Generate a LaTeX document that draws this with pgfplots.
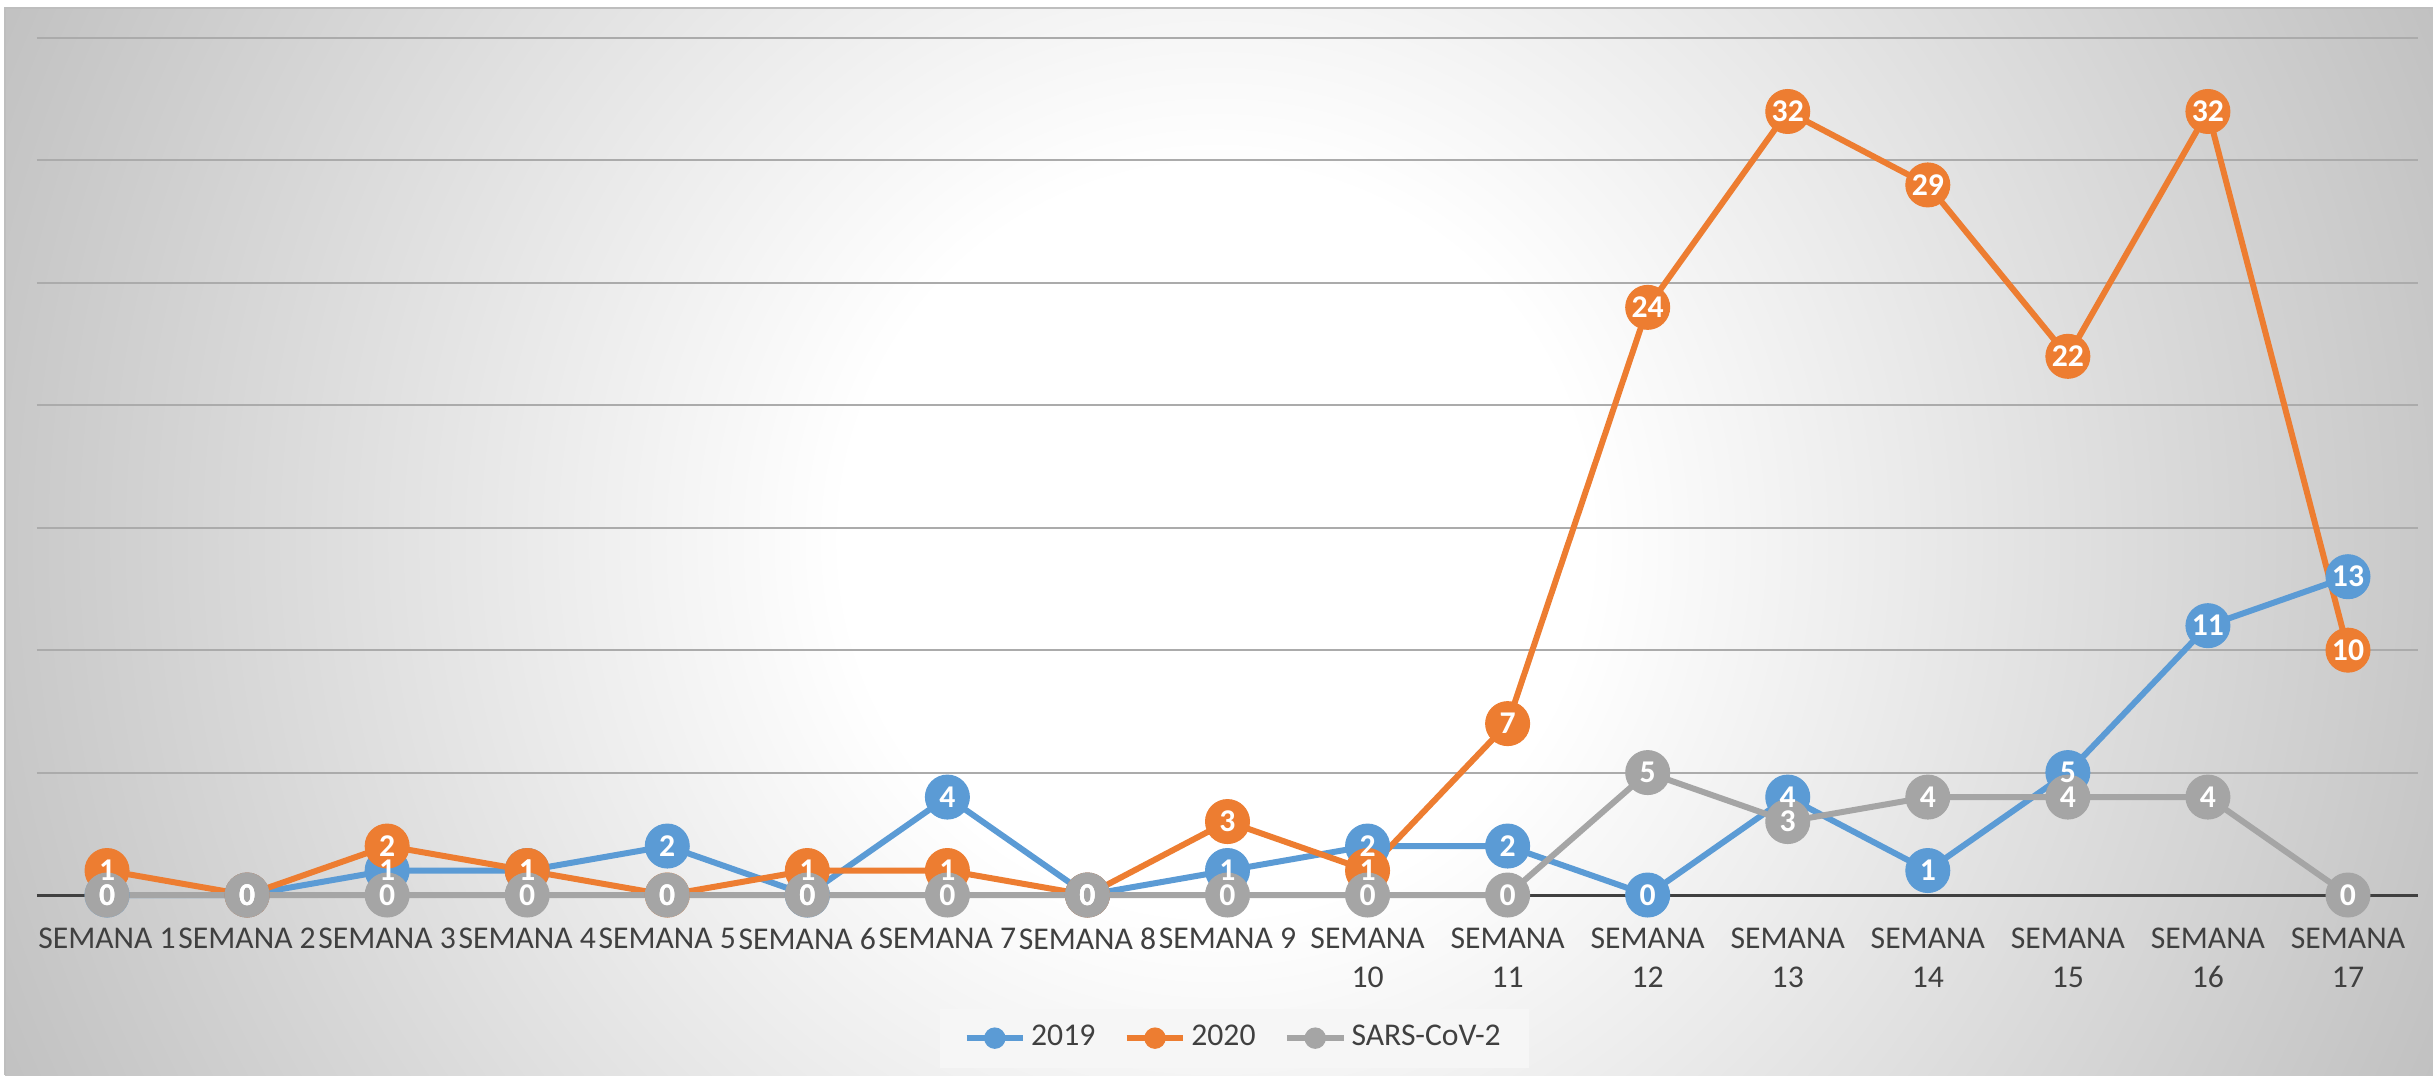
\documentclass[border=0pt]{standalone}
\usepackage{pgfplots}
\pgfplotsset{compat=1.18}
\usepackage{pgfplotstable}
\usepackage{fontspec}
\setmainfont{Carlito}
\definecolor{c19}{HTML}{5B9BD5}
\definecolor{c20}{HTML}{ED7D31}
\definecolor{csars}{HTML}{A5A5A5}
\definecolor{txt}{HTML}{404040}
\definecolor{gridc}{HTML}{ABABAB}
\definecolor{bgout}{RGB}{193,193,193}
\definecolor{framec}{RGB}{190,190,190}
\pgfdeclareradialshading{chartbg}{\pgfpoint{0bp}{0bp}}{color(0bp)=(white); color(7bp)=(white); color(25bp)=(bgout); color(50bp)=(bgout)}

\pgfplotstableread{
x a b c
0 0 1 0
1 0 0 0
2 1 2 0
3 1 1 0
4 2 0 0
5 0 1 0
6 4 1 0
7 0 0 0
8 1 3 0
9 2 1 0
10 2 7 0
11 0 24 5
12 4 32 3
13 1 29 4
14 5 22 4
15 11 32 4
16 13 10 0
}\data

\begin{document}
\begin{tikzpicture}
\useasboundingbox (0,0) rectangle (729.9pt,322.5pt);
\begin{scope}
\clip (1.5pt,0pt) rectangle (729.9pt,320.1pt);
\shade[shading=chartbg] (364.8pt,160.5pt) circle (399pt);
\end{scope}
\draw[framec, line width=0.6pt] (1.5pt,0pt) -- (1.5pt,320.1pt) -- (729.9pt,320.1pt);
\begin{axis}[
  at={(11.1pt,54pt)}, anchor=south west,
  width=714.3pt, height=257.1pt, scale only axis,
  xmin=-0.5, xmax=16.5, ymin=0, ymax=35,
  axis x line*=bottom, axis y line*=left,
  x axis line style={draw=txt, line width=0.9pt, -},
  y axis line style={draw=none},
  ytick={5,10,...,35}, yticklabels={}, ytick style={draw=none},
  ymajorgrids, grid style={draw=gridc, line width=0.6pt},
  xtick={0,...,16}, xtick style={draw=none},
  xticklabels={SEMANA 1,SEMANA 2,SEMANA 3,SEMANA 4,SEMANA 5,SEMANA 6,SEMANA 7,SEMANA 8,SEMANA 9,{SEMANA\\10},{SEMANA\\11},{SEMANA\\12},{SEMANA\\13},{SEMANA\\14},{SEMANA\\15},{SEMANA\\16},{SEMANA\\17}},
  xticklabel style={font=\fontsize{9.5}{11.8}\selectfont, text=txt, align=center, yshift=-6.3pt},
  /pgf/number format/assume math mode=true,
  clip=false,
  legend style={at={(0.503,-0.167)}, anchor=center, legend columns=3, draw=none, fill=gray!7,
    font=\fontsize{9.5}{12}\selectfont, text=txt, inner xsep=7pt, inner ysep=3pt,
    nodes={inner xsep=1.5pt},
    /tikz/every odd column/.append style={column sep=0pt},
    /tikz/every even column/.append style={column sep=7pt}},
  legend image code/.code={\draw[#1,mark=none] (0pt,0pt) -- (17pt,0pt); \fill[#1,mark=none] (8.5pt,0pt) circle (2.3pt);},
]
\addplot[c19, line width=1.8pt, mark=*, mark size=6.6pt, mark options={fill=c19, draw=c19, line width=0.3pt}] table[x=x,y=a]{\data};
\addlegendentry{2019}
\addplot[c20, line width=1.8pt, mark=*, mark size=6.6pt, mark options={fill=c20, draw=c20, line width=0.3pt}] table[x=x,y=b]{\data};
\addlegendentry{2020}
\addplot[csars, line width=1.8pt, mark=*, mark size=6.6pt, mark options={fill=csars, draw=csars, line width=0.3pt}] table[x=x,y=c]{\data};
\addlegendentry{SARS-CoV-2}
\pgfplotsset{lbl/.style={draw=none, mark=none, forget plot, nodes near coords, every node near coord/.append style={anchor=center, text=white, inner sep=0pt, font=\bfseries\fontsize{9.5}{11}\selectfont}}}
\addplot[lbl] table[x=x,y=a]{\data};
\addplot[lbl] table[x=x,y=b]{\data};
\addplot[lbl] table[x=x,y=c]{\data};
\end{axis}
\end{tikzpicture}
\end{document}
